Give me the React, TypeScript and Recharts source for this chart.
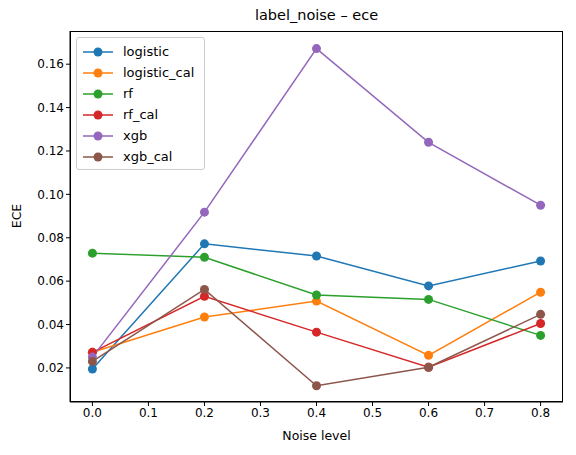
import { LineChart, Line, XAxis, YAxis } from 'recharts';

const noise = [0.0, 0.2, 0.4, 0.6, 0.8];
const logistic = [0.0195, 0.0772, 0.0716, 0.0578, 0.0693];
const logisticCal = [0.0272, 0.0435, 0.0508, 0.0258, 0.0549];
const rf = [0.0729, 0.0710, 0.0536, 0.0516, 0.0350];
const rfCal = [0.0272, 0.0530, 0.0365, 0.0203, 0.0405];
const xgb = [0.0250, 0.0918, 0.1672, 0.1240, 0.0950];
const xgbCal = [0.0230, 0.0562, 0.0118, 0.0203, 0.0447];

const series = [
    { key: 'logistic', values: logistic, color: '#1f77b4' },
    { key: 'logistic_cal', values: logisticCal, color: '#ff7f0e' },
    { key: 'rf', values: rf, color: '#2ca02c' },
    { key: 'rf_cal', values: rfCal, color: '#d62728' },
    { key: 'xgb', values: xgb, color: '#9467bd' },
    { key: 'xgb_cal', values: xgbCal, color: '#8c564b' },
];

const xTicks = [0, 0.1, 0.2, 0.3, 0.4, 0.5, 0.6, 0.7, 0.8];
const yTicks = [0.02, 0.04, 0.06, 0.08, 0.1, 0.12, 0.14, 0.16];

const data = noise.map((n, i) => {
    const row: Record<string, number> = { noise: n };
    series.forEach((s) => { row[s.key] = s.values[i]; });
    return row;
});

const font = 'DejaVu Sans, sans-serif';

function LegendBox() {
    return (
        <div style={{ position: 'absolute', left: 76, top: 37, border: '1px solid #ccc', borderRadius: 3, background: 'rgba(255,255,255,0.8)', padding: '3px 10px 2px 6px', fontSize: 13 }}>
            {series.map((s) => (
                <div key={s.key} style={{ display: 'flex', alignItems: 'center', height: 21 }}>
                    <svg width={30} height={12} style={{ marginRight: 10 }}>
                        <line x1={0} x2={30} y1={6} y2={6} stroke={s.color} strokeWidth={1.5} />
                        <circle cx={15} cy={6} r={4.5} fill={s.color} />
                    </svg>
                    <span>{s.key}</span>
                </div>
            ))}
        </div>
    );
}

export default function App() {
    return (
        <div style={{ position: 'absolute', left: 0, top: 0, width: 576, height: 455, background: '#fff', fontFamily: font }}>
            <div style={{ position: 'absolute', top: 7, left: 70, width: 493, textAlign: 'center', fontSize: 14.5 }}>label_noise – ece</div>
            <div style={{ position: 'absolute', top: 428, left: 70, width: 493, textAlign: 'center', fontSize: 12.5 }}>Noise level</div>
            <div style={{ position: 'absolute', left: 16, top: 216, transform: 'translate(-50%,-50%) rotate(-90deg)', fontSize: 12.5 }}>ECE</div>
            <LineChart width={576} height={455} data={data} margin={{ top: 31, right: 13, bottom: 23, left: 8 }}>
                <XAxis
                    dataKey="noise"
                    type="number"
                    domain={[-0.04, 0.84]}
                    ticks={xTicks}
                    tickFormatter={(v) => v.toFixed(1)}
                    allowDataOverflow
                    stroke="#000"
                    tick={{ fill: '#000', fontSize: 12 }}
                    tickSize={4}
                    height={30}
                />
                <YAxis
                    type="number"
                    width={62}
                    domain={[0.0043, 0.1753]}
                    ticks={yTicks}
                    tickFormatter={(v) => v.toFixed(2)}
                    allowDataOverflow
                    stroke="#000"
                    tick={{ fill: '#000', fontSize: 12 }}
                    tickSize={4}
                />
                {series.map((s) => (
                    <Line
                        key={s.key}
                        dataKey={s.key}
                        stroke={s.color}
                        strokeWidth={1.5}
                        dot={{ r: 4.5, fill: s.color, stroke: s.color, strokeWidth: 0 }}
                        isAnimationActive={false}
                        type="linear"
                    />
                ))}
            </LineChart>
            <div style={{ position: 'absolute', left: 70, top: 31, width: 493, height: 371, border: '1px solid #000', boxSizing: 'border-box', pointerEvents: 'none' }} />
            <LegendBox />
        </div>
    );
}
